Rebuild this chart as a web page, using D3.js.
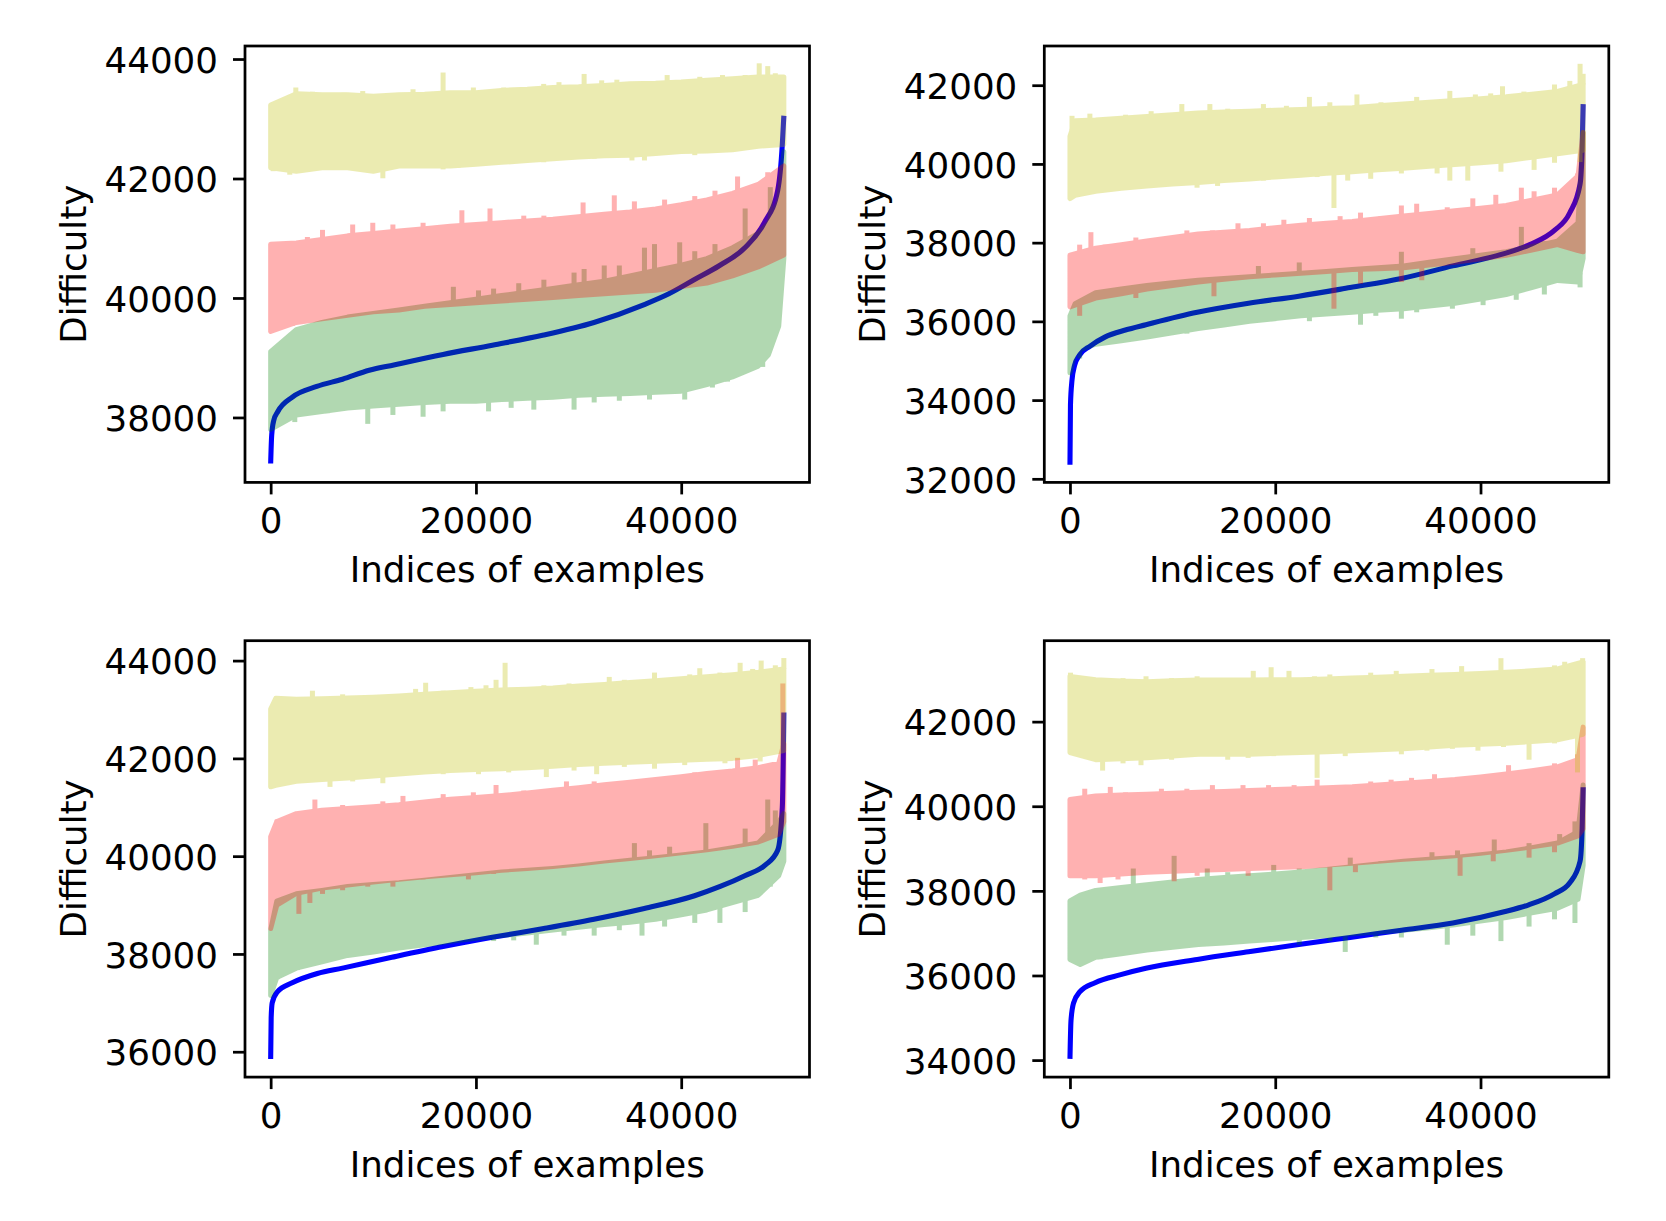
<!DOCTYPE html>
<html>
<head>
<meta charset="utf-8">
<script src="https://cdn.jsdelivr.net/npm/d3@7"></script>
<style>
  body { margin: 0; background: #fff; }
  svg { display: block; }
  text { font-family: "DejaVu Sans", sans-serif; fill: #000; }
</style>
</head>
<body>
<div id="chart"></div>
<script>
// ---- data ----
// bands are [index, low edge, high edge]; spikes are [index, value]; sorted curve is [index, value]
const xTicks = [0, 20000, 40000];
const xDomain = [-2500, 52499];

const yTicksTL = [38000, 40000, 42000, 44000];
const yTicksTR = [32000, 34000, 36000, 38000, 40000, 42000];
const yTicksBL = [36000, 38000, 40000, 42000, 44000];
const yTicksBR = [34000, 36000, 38000, 40000, 42000];

const yDomainTL = [36913, 44218];
const yDomainTR = [31909, 42996];
const yDomainBL = [35481, 44407];
const yDomainBR = [33598, 43913];

// top left
const blueTL = [[0, 37230], [100, 37700], [300, 37950], [700, 38100], [2100, 38340], [4500, 38520], [7000, 38640],
  [9600, 38790], [12000, 38880], [16800, 39055], [21600, 39210], [26600, 39380], [31500, 39590], [36400, 39890],
  [38800, 40070], [41300, 40310], [43700, 40540], [46200, 40840], [48100, 41260], [49400, 41800], [49850, 42570], [49999, 43050]];
const greenTL = [[0, 37800, 39100], [2500, 38040, 39470], [5000, 38100, 39590], [7500, 38160, 39680], [10000, 38190, 39740],
  [12500, 38220, 39800], [15000, 38250, 39860], [17500, 38270, 39920], [20000, 38270, 39980], [22500, 38300, 40040],
  [25000, 38320, 40100], [27500, 38340, 40160], [30000, 38370, 40220], [32500, 38390, 40280], [35000, 38400, 40370],
  [37500, 38420, 40460], [40000, 38440, 40550], [42500, 38550, 40660], [45000, 38680, 40840], [47500, 38860, 41080],
  [48500, 39050, 41250], [49500, 39530, 41620], [49999, 40660, 42450]];
const redTL = [[0, 39440, 40900], [2500, 39590, 40920], [5000, 39650, 40980], [7500, 39710, 41040], [10000, 39770, 41080],
  [12500, 39800, 41120], [15000, 39860, 41160], [17500, 39890, 41200], [20000, 39920, 41230], [22500, 39950, 41260],
  [25000, 39980, 41290], [27500, 40010, 41320], [30000, 40040, 41360], [32500, 40070, 41400], [35000, 40100, 41440],
  [37500, 40130, 41490], [40000, 40190, 41560], [42500, 40250, 41640], [45000, 40370, 41750], [47500, 40520, 41900],
  [49999, 40720, 42210]];
const yellowTL = [[0, 42180, 43230], [2500, 42120, 43420], [5000, 42180, 43400], [7500, 42180, 43400], [10000, 42120, 43375],
  [12500, 42210, 43400], [15000, 42210, 43410], [17500, 42210, 43435], [20000, 42240, 43435], [22500, 42270, 43475],
  [25000, 42300, 43495], [27500, 42330, 43525], [30000, 42360, 43535], [32500, 42380, 43555], [35000, 42390, 43585],
  [37500, 42420, 43595], [40000, 42450, 43615], [42500, 42460, 43645], [45000, 42480, 43670], [47500, 42540, 43700],
  [49999, 42570, 43700]];
const greenSpikesTL = [[17800, 40187], [20250, 40127], [21720, 40157], [24170, 40247], [26620, 40306], [29560, 40425],
  [30540, 40485], [32500, 40544], [33970, 40544], [36420, 40842], [37400, 40902], [39850, 40932], [41320, 40783],
  [43290, 40902], [46230, 41498], [48680, 41855],
  [640, 37923], [2350, 37923], [4070, 38042], [5540, 38072], [9460, 37893], [11910, 38042], [14850, 38012], [16800, 38102],
  [21230, 38102], [23430, 38161], [25640, 38131], [29560, 38131], [31520, 38251], [33970, 38280], [36910, 38300],
  [40340, 38300], [43040, 38501], [44510, 38600], [46230, 38780], [47940, 38846]];
const redSpikesTL = [[3580, 41021], [5050, 41140], [7990, 41230], [9950, 41259], [11910, 41230], [14850, 41259],
  [18630, 41468], [21370, 41498], [24660, 41378], [26620, 41378], [30440, 41599], [33480, 41718], [35440, 41617],
  [38380, 41647], [41320, 41706], [43290, 41796], [45490, 42034], [46720, 41855], [48430, 42105], [49410, 42094],
  [250, 39442], [2100, 39532]];
const yellowSpikesTL = [[2450, 43523], [4070, 43452], [7160, 43434], [8970, 43464], [13870, 43494], [16800, 43774],
  [19750, 43523], [22700, 43523], [26600, 43583], [28090, 43613], [30540, 43750], [32250, 43643], [33730, 43654],
  [35440, 43583], [38630, 43732], [41810, 43702], [44020, 43732], [45000, 43672], [46230, 43732], [47600, 43928],
  [48430, 43881], [49170, 43762],
  [250, 42123], [1860, 42064], [3090, 42153], [6760, 42153], [10200, 42153], [10930, 42004], [13380, 42213],
  [16800, 42153], [18280, 42183], [21720, 42242], [26600, 42272], [31520, 42332], [35200, 42302], [36420, 42302], [41320, 42391]];

// top right
const blueTR = [[0, 32360], [50, 33880], [200, 34510], [450, 34880], [950, 35150], [1950, 35370], [3400, 35600],
  [5400, 35780], [7400, 35915], [12400, 36230], [17400, 36460], [22300, 36640], [27300, 36860], [32300, 37090],
  [37300, 37410], [42300, 37720], [44800, 37950], [47200, 38310], [48700, 38760], [49700, 39490], [49900, 40390], [49999, 41520]];
const greenTR = [[0, 34690, 36140], [500, 35240, 36450], [2500, 35420, 36730], [5000, 35510, 36820], [7500, 35600, 36910],
  [10000, 35710, 36980], [12500, 35820, 37045], [15000, 35910, 37090], [17500, 36005, 37135], [20000, 36070, 37180],
  [22500, 36140, 37225], [25000, 36190, 37270], [27500, 36230, 37315], [30000, 36280, 37360], [32500, 36320, 37410],
  [35000, 36390, 37500], [37500, 36460, 37590], [40000, 36570, 37680], [42500, 36680, 37770], [45000, 36860, 37900],
  [47500, 37040, 38040], [49500, 37000, 38500], [49999, 37600, 40800]];
const redTR = [[0, 36370, 37680], [2500, 36590, 37860], [5000, 36700, 37950], [7500, 36820, 38040], [10000, 36910, 38130],
  [12500, 37000, 38220], [15000, 37070, 38265], [17500, 37135, 38310], [20000, 37180, 38380], [22500, 37225, 38445],
  [25000, 37270, 38490], [27500, 37315, 38540], [30000, 37340, 38605], [32500, 37360, 38675], [35000, 37430, 38740],
  [37500, 37500, 38810], [40000, 37590, 38875], [42500, 37680, 38945], [45000, 37810, 39080], [47500, 37950, 39215],
  [49500, 37800, 39700], [49999, 37770, 40800]];
const yellowTR = [[0, 39120, 40700], [500, 39200, 41100], [2500, 39305, 41115], [5000, 39380, 41160], [7500, 39440, 41205],
  [10000, 39490, 41250], [12500, 39530, 41295], [15000, 39580, 41320], [17500, 39620, 41340], [20000, 39670, 41365],
  [22500, 39710, 41385], [25000, 39760, 41410], [27500, 39800, 41430], [30000, 39850, 41475], [32500, 39890, 41520],
  [35000, 39940, 41565], [37500, 39985, 41610], [40000, 40030, 41655], [42500, 40080, 41705], [45000, 40170, 41770],
  [47500, 40255, 41840], [49999, 40345, 42020]];
const greenSpikesTR = [[18360, 37407], [22340, 37497], [32290, 37768], [39250, 37859], [43980, 38401], [46220, 38040],
  [945, 35056], [3430, 35417], [5670, 35508], [9400, 35644], [11390, 35689], [13880, 35870], [17360, 35960], [19850, 36005],
  [23330, 36005], [24830, 36141], [28310, 35915], [29800, 36141], [32290, 36068], [33780, 36231], [37260, 36322],
  [40250, 36412], [43480, 36548], [46220, 36683], [49700, 36864]];
const redSpikesTR = [[945, 37949], [2040, 38266], [3430, 37949], [6420, 38130], [8410, 38085], [11390, 38311], [13880, 38311],
  [16370, 38492], [18850, 38492], [20840, 38582], [23330, 38627], [26320, 38673], [28310, 38763], [30300, 38673],
  [32290, 38944], [33780, 38989], [36760, 38899], [39250, 39125], [41490, 39215], [43980, 39396], [45220, 39305],
  [47210, 39396], [49450, 39758],
  [945, 36141], [4430, 36683], [6420, 36593], [14030, 36638], [25720, 36322], [28310, 36955], [32290, 37000], [34280, 37045]];
const yellowSpikesTR = [[200, 41222], [1940, 41277], [3430, 41159], [5420, 41250], [7910, 41340], [10900, 41521],
  [13630, 41521], [15370, 41403], [18850, 41521], [21090, 41476], [23330, 41702], [25320, 41566], [27960, 41765],
  [30300, 41566], [33780, 41702], [37010, 41855], [39500, 41765], [40990, 41792], [42140, 41973], [44230, 41837],
  [47210, 42018], [48700, 42109], [49700, 42543], [49999, 42289],
  [945, 39215], [3430, 39396], [7160, 39396], [12380, 39396], [14380, 39441], [17360, 39622], [18850, 39577],
  [21340, 39667], [24080, 39667], [25720, 38880], [27060, 39577], [29300, 39622], [32290, 39758], [35770, 39758],
  [37010, 39577], [38760, 39577], [41990, 39803], [45220, 39848], [47210, 40029], [49700, 40047]];

// bottom left
const blueBL = [[0, 35850], [50, 36700], [150, 37000], [650, 37225], [2100, 37410], [4550, 37600], [7000, 37710],
  [11800, 37930], [16800, 38150], [21600, 38340], [26600, 38520], [31500, 38710], [36400, 38930], [41300, 39190],
  [43800, 39380], [46200, 39600], [48200, 39820], [49400, 40120], [49850, 41000], [49999, 42940]];
const greenBL = [[0, 37150, 38490], [600, 37520, 39080], [2500, 37710, 39230], [5000, 37840, 39300], [7500, 37970, 39380],
  [10000, 38040, 39420], [12500, 38120, 39455], [15000, 38190, 39510], [17500, 38260, 39565], [20000, 38320, 39620],
  [22500, 38375, 39675], [25000, 38430, 39710], [27500, 38490, 39750], [30000, 38545, 39800], [32500, 38600, 39860],
  [35000, 38650, 39915], [37500, 38710, 39970], [40000, 38800, 40025], [42500, 38900, 40085], [45000, 39050, 40175],
  [47500, 39200, 40270], [49500, 39600, 40700], [49999, 39900, 40870]];
const redBL = [[0, 38520, 40400], [600, 39000, 40710], [2500, 39240, 40870], [5000, 39350, 40940], [7500, 39410, 40975],
  [10000, 39470, 41010], [12500, 39530, 41050], [15000, 39580, 41110], [17500, 39620, 41165], [20000, 39660, 41200],
  [22500, 39710, 41240], [25000, 39750, 41290], [27500, 39790, 41350], [30000, 39840, 41400], [32500, 39900, 41460],
  [35000, 39950, 41510], [37500, 40010, 41570], [40000, 40070, 41625], [42500, 40130, 41690], [45000, 40200, 41740],
  [47500, 40290, 41810], [49500, 40450, 41900], [49999, 40710, 42300]];
const yellowBL = [[0, 41420, 43010], [500, 41450, 43230], [2500, 41530, 43210], [5000, 41570, 43220], [7500, 41600, 43235],
  [10000, 41640, 43250], [12500, 41680, 43275], [15000, 41720, 43310], [17500, 41750, 43345], [20000, 41770, 43375],
  [22500, 41790, 43400], [25000, 41810, 43415], [27500, 41840, 43440], [30000, 41875, 43480], [32500, 41900, 43510],
  [35000, 41920, 43550], [37500, 41940, 43590], [40000, 41960, 43630], [42500, 41980, 43670], [45000, 42000, 43710],
  [47500, 42060, 43760], [49999, 42160, 43830]];
const greenSpikesBL = [[35440, 40267], [36910, 40119], [38870, 40193], [42400, 40675], [46230, 40564], [48430, 41158], [49170, 40935],
  [640, 37484], [2600, 37670], [5050, 37856], [7990, 38004], [11910, 38115], [15830, 38189], [19270, 38264], [21720, 38264],
  [23680, 38278], [25880, 38189], [28580, 38375], [31520, 38375], [33970, 38486], [36180, 38375], [38380, 38560],
  [41320, 38635], [43770, 38635], [46230, 38857], [48680, 39377]];
const redSpikesBL = [[640, 40750], [4310, 41158], [7010, 41046], [10930, 41121], [12890, 41232], [16810, 41269],
  [19750, 41306], [21960, 41455], [24660, 41343], [28820, 41529], [31520, 41529], [35930, 41566], [38870, 41603],
  [41320, 41714], [45490, 42011], [47210, 41974], [49900, 43532],
  [2750, 38820], [3820, 39043], [5050, 39228], [7010, 39303], [9460, 39377], [11910, 39377], [14850, 39525],
  [19270, 39525], [21720, 39636]];
const yellowSpikesBL = [[640, 43273], [1620, 43236], [4070, 43384], [7010, 43310], [9460, 43273], [11910, 43310],
  [14120, 43421], [15100, 43547], [16810, 43384], [19510, 43458], [20980, 43495], [21960, 43607], [22840, 43955],
  [25150, 43384], [26620, 43495], [29070, 43532], [31030, 43495], [32990, 43666], [34460, 43607], [37400, 43755],
  [38870, 43644], [40830, 43718], [41810, 43844], [43770, 43755], [45740, 43955], [46960, 43829], [47790, 44000],
  [49170, 43904], [49999, 44052],
  [150, 41417], [3090, 41529], [5780, 41417], [7990, 41529], [10930, 41492], [12890, 41640], [16810, 41677],
  [20250, 41677], [23190, 41714], [26860, 41618], [29560, 41751], [31760, 41677], [34460, 41826], [37400, 41789],
  [40340, 41863], [44260, 41900], [47690, 41937]];

// bottom right
const blueBR = [[0, 34030], [100, 34930], [350, 35350], [950, 35610], [2450, 35830], [4950, 36020], [7400, 36170],
  [12400, 36380], [17400, 36560], [22300, 36730], [27300, 36900], [32300, 37070], [37300, 37240], [42200, 37500],
  [44700, 37670], [47200, 37930], [48700, 38190], [49700, 38700], [49900, 39470], [49999, 40450]];
const greenBR = [[0, 36380, 37760], [1000, 36260, 37900], [2500, 36430, 38010], [5000, 36515, 38080], [7500, 36600, 38145],
  [10000, 36665, 38210], [12500, 36730, 38270], [15000, 36770, 38315], [17500, 36815, 38360], [20000, 36855, 38400],
  [22500, 36900, 38445], [25000, 36940, 38505], [27500, 36985, 38570], [30000, 37030, 38635], [32500, 37070, 38700],
  [35000, 37130, 38745], [37500, 37200, 38790], [40000, 37285, 38855], [42500, 37370, 38920], [45000, 37480, 39020],
  [47500, 37590, 39130], [49500, 37800, 39400], [49999, 38600, 40500]];
const redBR = [[0, 38360, 40160], [2500, 38360, 40240], [5000, 38400, 40265], [7500, 38440, 40285], [10000, 38465, 40305],
  [12500, 38485, 40330], [15000, 38505, 40350], [17500, 38530, 40370], [20000, 38550, 40395], [22500, 38570, 40415],
  [25000, 38610, 40435], [27500, 38655, 40460], [30000, 38700, 40500], [32500, 38745, 40545], [35000, 38785, 40585],
  [37500, 38830, 40630], [40000, 38890, 40690], [42500, 38960, 40760], [45000, 39040, 40840], [47500, 39130, 40930],
  [49500, 39300, 41100], [49999, 39470, 41870]];
const yellowBR = [[0, 41270, 43070], [2500, 41100, 42990], [5000, 41120, 42960], [7500, 41145, 42945], [10000, 41190, 42965],
  [12500, 41230, 42985], [15000, 41230, 42985], [17500, 41230, 42985], [20000, 41250, 42990], [22500, 41270, 42990],
  [25000, 41290, 43010], [27500, 41310, 43030], [30000, 41335, 43050], [32500, 41360, 43075], [35000, 41400, 43095],
  [37500, 41440, 43115], [40000, 41465, 43140], [42500, 41490, 43165], [45000, 41530, 43200], [47500, 41570, 43245],
  [49999, 41700, 43410]];
const greenSpikesBR = [[6170, 38528], [10150, 38828], [13380, 38528], [15370, 38442], [19850, 38613], [22340, 38528],
  [27310, 38785], [30300, 38699], [35270, 38913], [37760, 38956], [41340, 39214], [44730, 39128], [47710, 39342], [49200, 39642],
  [945, 36255], [2940, 36384], [4680, 36470], [7410, 36556], [9900, 36641], [12390, 36684], [15370, 36727], [18850, 36813],
  [22340, 36727], [25320, 36813], [26820, 36556], [29800, 36898], [32290, 36898], [36760, 36727], [39250, 36941],
  [41990, 36813], [44730, 37156], [47210, 37327], [49200, 37241]];
const redSpikesBR = [[1440, 40414], [3930, 40457], [5420, 40328], [8910, 40414], [11390, 40414], [13880, 40500],
  [16860, 40500], [19350, 40500], [21840, 40500], [24080, 40628], [26570, 40500], [29300, 40585], [31290, 40628],
  [33280, 40671], [35520, 40757], [37760, 40671], [40250, 40714], [42730, 40971], [44970, 40843], [47210, 41014], [49450, 41228],
  [1440, 38270], [2940, 38185], [4680, 38270], [10150, 38227], [12390, 38356], [17360, 38356], [25320, 38013],
  [27810, 38442], [38010, 38356], [41240, 38699], [44730, 38785], [47210, 38913]];
const yellowSpikesBR = [[50, 43157], [1940, 43029], [3930, 43003], [5170, 43029], [7410, 43072], [9900, 43029],
  [12390, 43072], [15370, 43029], [17860, 43200], [19600, 43286], [21340, 43200], [23830, 43072], [25320, 43115],
  [27310, 43072], [29300, 43157], [31790, 43200], [35270, 43243], [38160, 43312], [40250, 43175], [41990, 43500],
  [43730, 43157], [45220, 43243], [47210, 43329], [48200, 43415], [49950, 43500],
  [3180, 40843], [5170, 41014], [6920, 40971], [9900, 41100], [12390, 41185], [15370, 41100], [17360, 41143],
  [19850, 41185], [22340, 41228], [24080, 40671], [26820, 41185], [29300, 41314], [32290, 41228], [34780, 41314],
  [37260, 41357], [39750, 41314], [42240, 41400], [44730, 41100], [47210, 41486], [49450, 40800]];

// ---- layout ----
const width = 1666, height = 1221;
const plotW = 564.5, plotH = 436.4;
const fontSize = 35.7;
const lw = 2.74;

const panels = [
  {left: 245, top: 46, yDomain: yDomainTL, yTicks: yTicksTL, blue: blueTL,
   bands: [[greenTL, greenSpikesTL, "#008000"], [redTL, redSpikesTL, "#ff0000"], [yellowTL, yellowSpikesTL, "#bfbf00"]]},
  {left: 1044.3, top: 46, yDomain: yDomainTR, yTicks: yTicksTR, blue: blueTR,
   bands: [[greenTR, greenSpikesTR, "#008000"], [redTR, redSpikesTR, "#ff0000"], [yellowTR, yellowSpikesTR, "#bfbf00"]]},
  {left: 245, top: 640.7, yDomain: yDomainBL, yTicks: yTicksBL, blue: blueBL,
   bands: [[greenBL, greenSpikesBL, "#008000"], [redBL, redSpikesBL, "#ff0000"], [yellowBL, yellowSpikesBL, "#bfbf00"]]},
  {left: 1044.3, top: 640.7, yDomain: yDomainBR, yTicks: yTicksBR, blue: blueBR,
   bands: [[greenBR, greenSpikesBR, "#008000"], [redBR, redSpikesBR, "#ff0000"], [yellowBR, yellowSpikesBR, "#bfbf00"]]}
];

const svg = d3.select("#chart").append("svg")
  .attr("width", width)
  .attr("height", height)
  .attr("viewBox", `0 0 ${width} ${height}`);

svg.append("rect").attr("width", width).attr("height", height).attr("fill", "#fff");

panels.forEach(p => {
  const g = svg.append("g");
  const x = d3.scaleLinear().domain(xDomain).range([p.left, p.left + plotW]);
  const y = d3.scaleLinear().domain(p.yDomain).range([p.top + plotH, p.top]);

  // sorted difficulty curve goes underneath
  g.append("path")
    .datum(p.blue)
    .attr("fill", "none")
    .attr("stroke", "#0000ff")
    .attr("stroke-width", 5.1)
    .attr("stroke-linejoin", "round")
    .attr("d", d3.line().x(d => x(d[0])).y(d => y(d[1])).curve(d3.curveMonotoneX));

  // noisy series as translucent envelopes + the spikes that stick out
  p.bands.forEach(([band, spikes, color]) => {
    const bg = g.append("g").attr("opacity", 0.3);
    const area = d3.area()
      .x(d => x(d[0]))
      .y0(d => y(d[1]))
      .y1(d => y(d[2]));
    bg.append("path")
      .datum(band)
      .attr("fill", color)
      .attr("stroke", color)
      .attr("stroke-width", 5)
      .attr("stroke-linejoin", "round")
      .attr("d", area);

    const loAt = d3.scaleLinear().domain(band.map(d => d[0])).range(band.map(d => d[1]));
    const hiAt = d3.scaleLinear().domain(band.map(d => d[0])).range(band.map(d => d[2]));
    bg.selectAll("line.spike")
      .data(spikes)
      .join("line")
      .attr("class", "spike")
      .attr("x1", d => x(d[0]))
      .attr("x2", d => x(d[0]))
      .attr("y1", d => y(d[1] > hiAt(d[0]) ? hiAt(d[0]) : loAt(d[0])))
      .attr("y2", d => y(d[1]))
      .attr("stroke", color)
      .attr("stroke-width", 5);
  });

  // frame
  g.append("rect")
    .attr("x", p.left).attr("y", p.top)
    .attr("width", plotW).attr("height", plotH)
    .attr("fill", "none")
    .attr("stroke", "#000")
    .attr("stroke-width", lw);

  // x axis
  const xAxis = g.append("g")
    .attr("transform", `translate(0,${p.top + plotH})`)
    .call(d3.axisBottom(x).tickValues(xTicks).tickSize(12).tickFormat(d3.format("d")));
  xAxis.select(".domain").remove();
  xAxis.selectAll(".tick line").attr("stroke", "#000").attr("stroke-width", lw);
  xAxis.selectAll(".tick text")
    .attr("y", 51).attr("dy", null)
    .style("font-size", fontSize + "px")
    .style("font-family", "DejaVu Sans");

  // y axis
  const yAxis = g.append("g")
    .attr("transform", `translate(${p.left},0)`)
    .call(d3.axisLeft(y).tickValues(p.yTicks).tickSize(12).tickFormat(d3.format("d")));
  yAxis.select(".domain").remove();
  yAxis.selectAll(".tick line").attr("stroke", "#000").attr("stroke-width", lw);
  yAxis.selectAll(".tick text")
    .attr("x", -27).attr("dy", "0.37em")
    .style("font-size", fontSize + "px")
    .style("font-family", "DejaVu Sans");

  // labels
  g.append("text")
    .attr("x", p.left + plotW / 2)
    .attr("y", p.top + plotH + 100)
    .attr("text-anchor", "middle")
    .style("font-size", fontSize + "px")
    .text("Indices of examples");

  g.append("text")
    .attr("transform", `translate(${p.left - 159},${p.top + plotH / 2}) rotate(-90)`)
    .attr("text-anchor", "middle")
    .style("font-size", fontSize + "px")
    .text("Difficulty");
});
</script>
</body>
</html>
